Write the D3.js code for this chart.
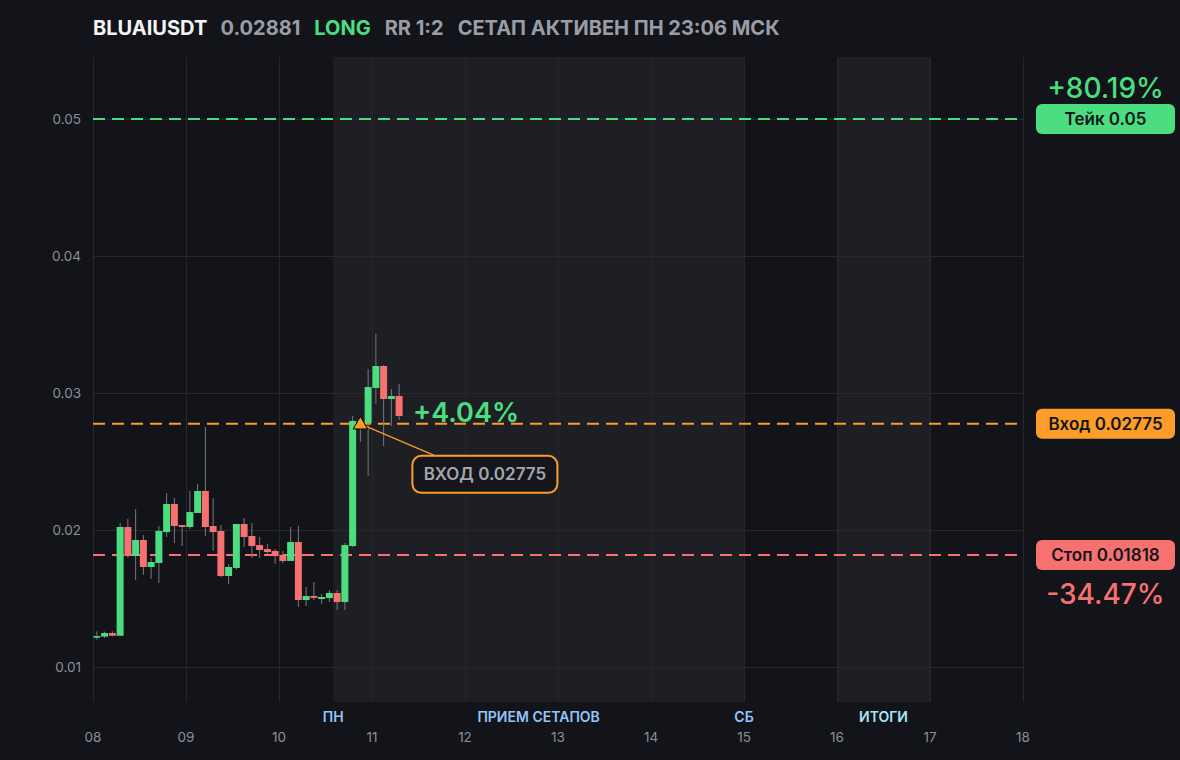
<!DOCTYPE html>
<html>
<head>
<meta charset="utf-8">
<script src="https://cdn.jsdelivr.net/npm/d3@7"></script>
<style>
  html, body { margin: 0; padding: 0; background: #131419; }
  svg { display: block; font-family: Inter, "Noto Sans", sans-serif; }
</style>
</head>
<body>
<script>
// 2h candles, first one opens on the 8th at 00:00
var candleStart = Date.UTC(2025, 0, 8, 0, 0);
var candleStepHours = 2;
var opens  = [0.01214, 0.01222, 0.01248, 0.01228, 0.02022, 0.01810, 0.01927, 0.01730, 0.01759, 0.01985,
              0.02190, 0.02036, 0.02022, 0.02124, 0.02285, 0.02029, 0.01993, 0.01664, 0.01723, 0.02044,
              0.01956, 0.01890, 0.01861, 0.01847, 0.01818, 0.01774, 0.01912, 0.01489, 0.01518, 0.01496,
              0.01503, 0.01540, 0.01474, 0.01883, 0.02796, 0.02781, 0.03037, 0.03197, 0.02956, 0.02978];
var highs  = [0.01260, 0.01258, 0.01260, 0.02051, 0.02080, 0.02153, 0.01963, 0.01796, 0.02030, 0.02270,
              0.02234, 0.02036, 0.02285, 0.02336, 0.02752, 0.02234, 0.02036, 0.01752, 0.02044, 0.02088,
              0.02051, 0.01949, 0.01898, 0.01861, 0.01847, 0.02022, 0.02030, 0.01584, 0.01620, 0.01533,
              0.01562, 0.01562, 0.01905, 0.02832, 0.02820, 0.03175, 0.03431, 0.03204, 0.03029, 0.03066];
var lows   = [0.01200, 0.01212, 0.01225, 0.01228, 0.01800, 0.01635, 0.01672, 0.01642, 0.01613, 0.01949,
              0.01905, 0.01883, 0.02007, 0.02124, 0.01956, 0.01847, 0.01657, 0.01606, 0.01710, 0.01876,
              0.01796, 0.01796, 0.01825, 0.01752, 0.01759, 0.01774, 0.01438, 0.01445, 0.01489, 0.01460,
              0.01474, 0.01416, 0.01416, 0.01876, 0.02642, 0.02394, 0.02920, 0.02613, 0.02759, 0.02803];
var closes = [0.01226, 0.01248, 0.01228, 0.02022, 0.01810, 0.01927, 0.01730, 0.01766, 0.01993, 0.02190,
              0.02029, 0.02022, 0.02131, 0.02285, 0.02022, 0.01985, 0.01664, 0.01730, 0.02044, 0.01949,
              0.01883, 0.01854, 0.01839, 0.01810, 0.01774, 0.01912, 0.01489, 0.01518, 0.01504, 0.01511,
              0.01540, 0.01474, 0.01890, 0.02796, 0.02781, 0.03044, 0.03197, 0.02956, 0.02978, 0.02832];

var symbol = "BLUAIUSDT", lastPrice = "0.02881", side = "LONG", rr = "RR 1:2",
    status = "СЕТАП АКТИВЕН ПН 23:06 МСК";
var entryPrice = 0.02775, takePrice = 0.05, stopPrice = 0.01818;
var entryCandle = 34;
var takePct = "+80.19%", stopPct = "-34.47%", currentPct = "+4.04%";
var priceTicks = [0.01, 0.02, 0.03, 0.04, 0.05];

// zones on the time axis
var zoneStarts = [Date.UTC(2025, 0, 10, 14), Date.UTC(2025, 0, 16)];
var zoneEnds   = [Date.UTC(2025, 0, 15), Date.UTC(2025, 0, 17)];
var zoneNames  = ["ПРИЕМ СЕТАПОВ", "ИТОГИ"];
var markTimes  = [Date.UTC(2025, 0, 10, 14), Date.UTC(2025, 0, 15)];
var markNames  = ["ПН", "СБ"];

var width = 1180, height = 760;
var plotLeft = 93, plotRight = 1023, plotTop = 57, plotBottom = 702;

var green = "#4ade80", red = "#f87171", orange = "#fb9d28";

var svg = d3.select("body").append("svg")
    .attr("width", width)
    .attr("height", height);

svg.append("rect").attr("width", width).attr("height", height).attr("fill", "#131419");

var x = d3.scaleUtc()
    .domain([Date.UTC(2025, 0, 8), Date.UTC(2025, 0, 18)])
    .range([plotLeft, plotRight]);

var y = d3.scaleLinear()
    .domain([0.01, 0.05])
    .range([667, 119]);

var stepMs = candleStepHours * 3600 * 1000;
var candles = opens.map(function(o, i){
    var t = candleStart + i * stepMs;
    return {t: t, o: o, h: highs[i], l: lows[i], c: closes[i]};
});

//shaded zones
svg.selectAll(".zone")
    .data(zoneStarts)
    .enter().append("rect")
    .attr("x", function(d){ return x(d); })
    .attr("y", plotTop)
    .attr("width", function(d, i){ return x(zoneEnds[i]) - x(d); })
    .attr("height", plotBottom - plotTop)
    .attr("fill", "#1e1f24");

//grid
var days = x.ticks(d3.utcDay.every(1));
svg.selectAll(".vgrid")
    .data(days)
    .enter().append("line")
    .attr("x1", function(d){ return x(d); })
    .attr("x2", function(d){ return x(d); })
    .attr("y1", plotTop).attr("y2", plotBottom)
    .attr("stroke", "#27282e").attr("stroke-width", 1)
    .attr("shape-rendering", "crispEdges");

svg.selectAll(".hgrid")
    .data(priceTicks)
    .enter().append("line")
    .attr("x1", plotLeft).attr("x2", plotRight)
    .attr("y1", function(d){ return y(d); })
    .attr("y2", function(d){ return y(d); })
    .attr("stroke", "#27282e").attr("stroke-width", 1)
    .attr("shape-rendering", "crispEdges");

//axis labels
svg.selectAll(".ylab")
    .data(priceTicks)
    .enter().append("text")
    .attr("x", 81)
    .attr("y", function(d){ return y(d); })
    .attr("dy", "0.35em")
    .attr("text-anchor", "end")
    .attr("fill", "#8c8f97")
    .attr("font-size", 13.5)
    .text(function(d){ return d3.format(".2f")(d); });

svg.selectAll(".xlab")
    .data(days)
    .enter().append("text")
    .attr("x", function(d){ return x(d); })
    .attr("y", 737)
    .attr("dy", "0.35em")
    .attr("text-anchor", "middle")
    .attr("fill", "#8c8f97")
    .attr("font-size", 13.5)
    .text(d3.utcFormat("%d"));

svg.selectAll(".zlab")
    .data(zoneNames)
    .enter().append("text")
    .attr("x", function(d, i){ return (x(zoneStarts[i]) + x(zoneEnds[i])) / 2; })
    .attr("y", 717)
    .attr("dy", "0.35em")
    .attr("text-anchor", "middle")
    .attr("font-size", 14)
    .attr("font-weight", 600)
    .attr("fill", function(d, i){ return i === 1 ? "#a8e6f6" : "#93c5fd"; })
    .text(function(d){ return d; });

svg.selectAll(".mlab")
    .data(markNames)
    .enter().append("text")
    .attr("x", function(d, i){ return x(markTimes[i]); })
    .attr("y", 717)
    .attr("dy", "0.35em")
    .attr("text-anchor", "middle")
    .attr("font-size", 14)
    .attr("font-weight", 600)
    .attr("fill", "#93c5fd")
    .text(function(d){ return d; });

//level lines
var levels = [
    {v: takePrice, color: green},
    {v: entryPrice, color: orange},
    {v: stopPrice, color: red}
];
svg.selectAll(".level")
    .data(levels)
    .enter().append("line")
    .attr("x1", plotLeft).attr("x2", plotRight)
    .attr("y1", function(d){ return y(d.v); })
    .attr("y2", function(d){ return y(d.v); })
    .attr("stroke", function(d){ return d.color; })
    .attr("stroke-width", 2)
    .attr("stroke-dasharray", "12,7");

//candles
var slot = x(candleStart + stepMs) - x(candleStart);
var bodyW = slot * 0.9;
var cg = svg.append("g");
cg.selectAll(".wick")
    .data(candles)
    .enter().append("line")
    .attr("x1", function(d){ return x(d.t) + slot / 2; })
    .attr("x2", function(d){ return x(d.t) + slot / 2; })
    .attr("y1", function(d){ return y(d.h); })
    .attr("y2", function(d){ return y(d.l); })
    .attr("stroke", "#767981")
    .attr("stroke-width", 1);

cg.selectAll(".body")
    .data(candles)
    .enter().append("rect")
    .attr("x", function(d){ return x(d.t) + (slot - bodyW) / 2; })
    .attr("width", bodyW)
    .attr("y", function(d){ return y(Math.max(d.o, d.c)); })
    .attr("height", function(d){ return Math.max(1.5, Math.abs(y(d.o) - y(d.c))); })
    .attr("fill", function(d){ return d.c >= d.o ? green : red; });

//entry marker and callout
var ex = x(candles[entryCandle].t) + slot / 2,
    ey = y(entryPrice);
var boxX = ex + 52, boxY = ey + 32, boxW = 145, boxH = 37;

svg.append("line")
    .attr("x1", ex).attr("y1", ey)
    .attr("x2", boxX + 23).attr("y2", boxY)
    .attr("stroke", orange).attr("stroke-width", 1.2);

svg.append("path")
    .attr("d", d3.symbol().type(d3.symbolTriangle).size(90)())
    .attr("transform", "translate(" + ex + "," + (ey + 1) + ")")
    .attr("fill", orange)
    .attr("stroke", "#000")
    .attr("stroke-width", 1);

svg.append("rect")
    .attr("x", boxX).attr("y", boxY)
    .attr("width", boxW).attr("height", boxH)
    .attr("rx", 9)
    .attr("fill", "#15161b")
    .attr("stroke", orange).attr("stroke-width", 2);

svg.append("text")
    .attr("x", boxX + boxW / 2).attr("y", boxY + boxH / 2)
    .attr("dy", "0.35em")
    .attr("text-anchor", "middle")
    .attr("font-size", 17).attr("font-weight", 600)
    .attr("fill", "#a3a6ae")
    .text("ВХОД " + d3.format(".5f")(entryPrice));

var last = candles[candles.length - 1];
svg.append("text")
    .attr("x", x(last.t) + slot + 10)
    .attr("y", ey - 2)
    .attr("font-size", 27).attr("font-weight", 600)
    .attr("fill", green)
    .text(currentPct);

//right side price tags
var tags = [
    {v: takePrice, label: "Тейк " + takePrice, color: green, pct: takePct, pctDy: -21},
    {v: entryPrice, label: "Вход " + d3.format(".5f")(entryPrice), color: orange},
    {v: stopPrice, label: "Стоп " + d3.format(".5f")(stopPrice), color: red, pct: stopPct, pctDy: 49}
];
var tagX = 1036, tagW = 139, tagH = 30;
var tg = svg.selectAll(".tag")
    .data(tags)
    .enter().append("g");
tg.append("rect")
    .attr("x", tagX)
    .attr("y", function(d){ return y(d.v) - tagH / 2; })
    .attr("width", tagW).attr("height", tagH)
    .attr("rx", 6)
    .attr("fill", function(d){ return d.color; });
tg.append("text")
    .attr("x", tagX + tagW / 2)
    .attr("y", function(d){ return y(d.v); })
    .attr("dy", "0.35em")
    .attr("text-anchor", "middle")
    .attr("font-size", 17).attr("font-weight", 600)
    .attr("fill", "#14151a")
    .text(function(d){ return d.label; });
tg.filter(function(d){ return d.pct; })
    .append("text")
    .attr("x", tagX + tagW / 2)
    .attr("y", function(d){ return y(d.v) + d.pctDy; })
    .attr("text-anchor", "middle")
    .attr("font-size", 28).attr("font-weight", 500)
    .attr("fill", function(d){ return d.color; })
    .text(function(d){ return d.pct; });

//header
var head = svg.append("text")
    .attr("x", plotLeft)
    .attr("y", 35)
    .attr("font-size", 20)
    .attr("font-weight", 700);
var parts = [
    {t: symbol, c: "#f3f4f6"},
    {t: lastPrice, c: "#9a9da5"},
    {t: side, c: green},
    {t: rr, c: "#9a9da5"},
    {t: status, c: "#9a9da5"}
];
head.selectAll("tspan")
    .data(parts)
    .enter().append("tspan")
    .attr("dx", function(d, i){ return i === 0 ? 0 : 14; })
    .attr("fill", function(d){ return d.c; })
    .text(function(d){ return d.t; });
</script>
</body>
</html>
